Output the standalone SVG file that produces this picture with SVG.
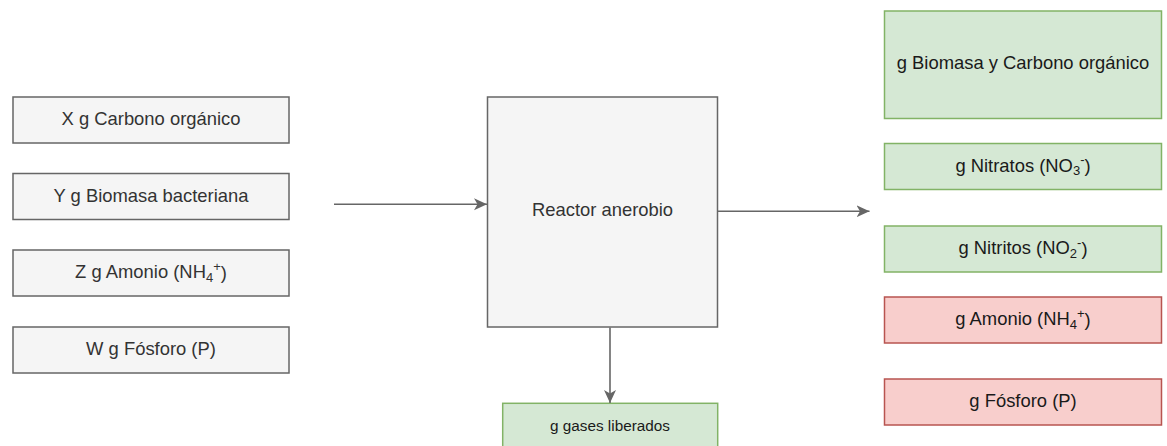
<svg xmlns="http://www.w3.org/2000/svg" width="1167" height="446" viewBox="0 0 1167 446">
<defs>
<marker id="arr" markerUnits="userSpaceOnUse" markerWidth="14" markerHeight="14" viewBox="0 0 14 14" refX="13" refY="7" orient="auto">
<path d="M0,1 L13,7 L0,13 L3.5,7 Z" fill="#666666"/>
</marker>
<style>
.gray{fill:#f5f5f5;stroke:#666666;stroke-width:1.5}
.green{fill:#d5e8d4;stroke:#82b366;stroke-width:1.5}
.red{fill:#f8cecc;stroke:#b85450;stroke-width:1.5}
text{font-family:"Liberation Sans",Arial,sans-serif;font-size:18.4px;fill:#333333;text-anchor:middle;dominant-baseline:central}
.dark{fill:#1a1a1a}
.small{font-size:15.3px}
.edge{stroke:#666666;stroke-width:1.6;fill:none;marker-end:url(#arr)}
.sub{font-size:13px}
</style>
</defs>
<rect width="1167" height="446" fill="#ffffff"/>
<g id="in1"><rect class="gray" x="13" y="97" width="276" height="46"/><text x="151" y="118.5">X g Carbono orgánico</text></g>
<g id="in2"><rect class="gray" x="13" y="173.5" width="276" height="46"/><text x="151" y="195">Y g Biomasa bacteriana</text></g>
<g id="in3"><rect class="gray" x="13" y="250" width="276" height="46"/><text x="151" y="271.5">Z g Amonio (NH<tspan class="sub" dy="5">4</tspan><tspan class="sub" dy="-11">+</tspan><tspan dy="6">)</tspan></text></g>
<g id="in4"><rect class="gray" x="13" y="327" width="276" height="46"/><text x="151" y="348.5">W g Fósforo (P)</text></g>
<g id="reactor"><rect class="gray" x="487.5" y="97" width="230" height="230"/><text x="602.5" y="209.5">Reactor anerobio</text></g>
<g id="gases"><rect class="green" x="502.7" y="403.3" width="215" height="47"/><text class="small dark" x="610" y="425.5">g gases liberados</text></g>
<g id="out1"><rect class="green" x="884.5" y="11" width="277" height="107.5"/><text class="dark" x="1023" y="62.5">g Biomasa y Carbono orgánico</text></g>
<g id="out2"><rect class="green" x="884.5" y="143.5" width="277" height="46"/><text class="dark" x="1023" y="165">g Nitratos (NO<tspan class="sub" dy="5">3</tspan><tspan class="sub" dy="-11">-</tspan><tspan dy="6">)</tspan></text></g>
<g id="out3"><rect class="green" x="884.5" y="226" width="277" height="46"/><text class="dark" x="1023" y="247.5">g Nitritos (NO<tspan class="sub" dy="5">2</tspan><tspan class="sub" dy="-11">-</tspan><tspan dy="6">)</tspan></text></g>
<g id="out4"><rect class="red" x="884.5" y="297" width="277" height="46"/><text class="dark" x="1023" y="318.5">g Amonio (NH<tspan class="sub" dy="5">4</tspan><tspan class="sub" dy="-11">+</tspan><tspan dy="6">)</tspan></text></g>
<g id="out5"><rect class="red" x="884.5" y="379" width="277" height="46"/><text class="dark" x="1023" y="400.5">g Fósforo (P)</text></g>
<g id="connectors">
<line class="edge" x1="334" y1="204.3" x2="487" y2="204.3"/>
<line class="edge" x1="717.5" y1="211.3" x2="869.5" y2="211.3"/>
<line class="edge" x1="610" y1="327.5" x2="610" y2="403"/>
</g>
</svg>
